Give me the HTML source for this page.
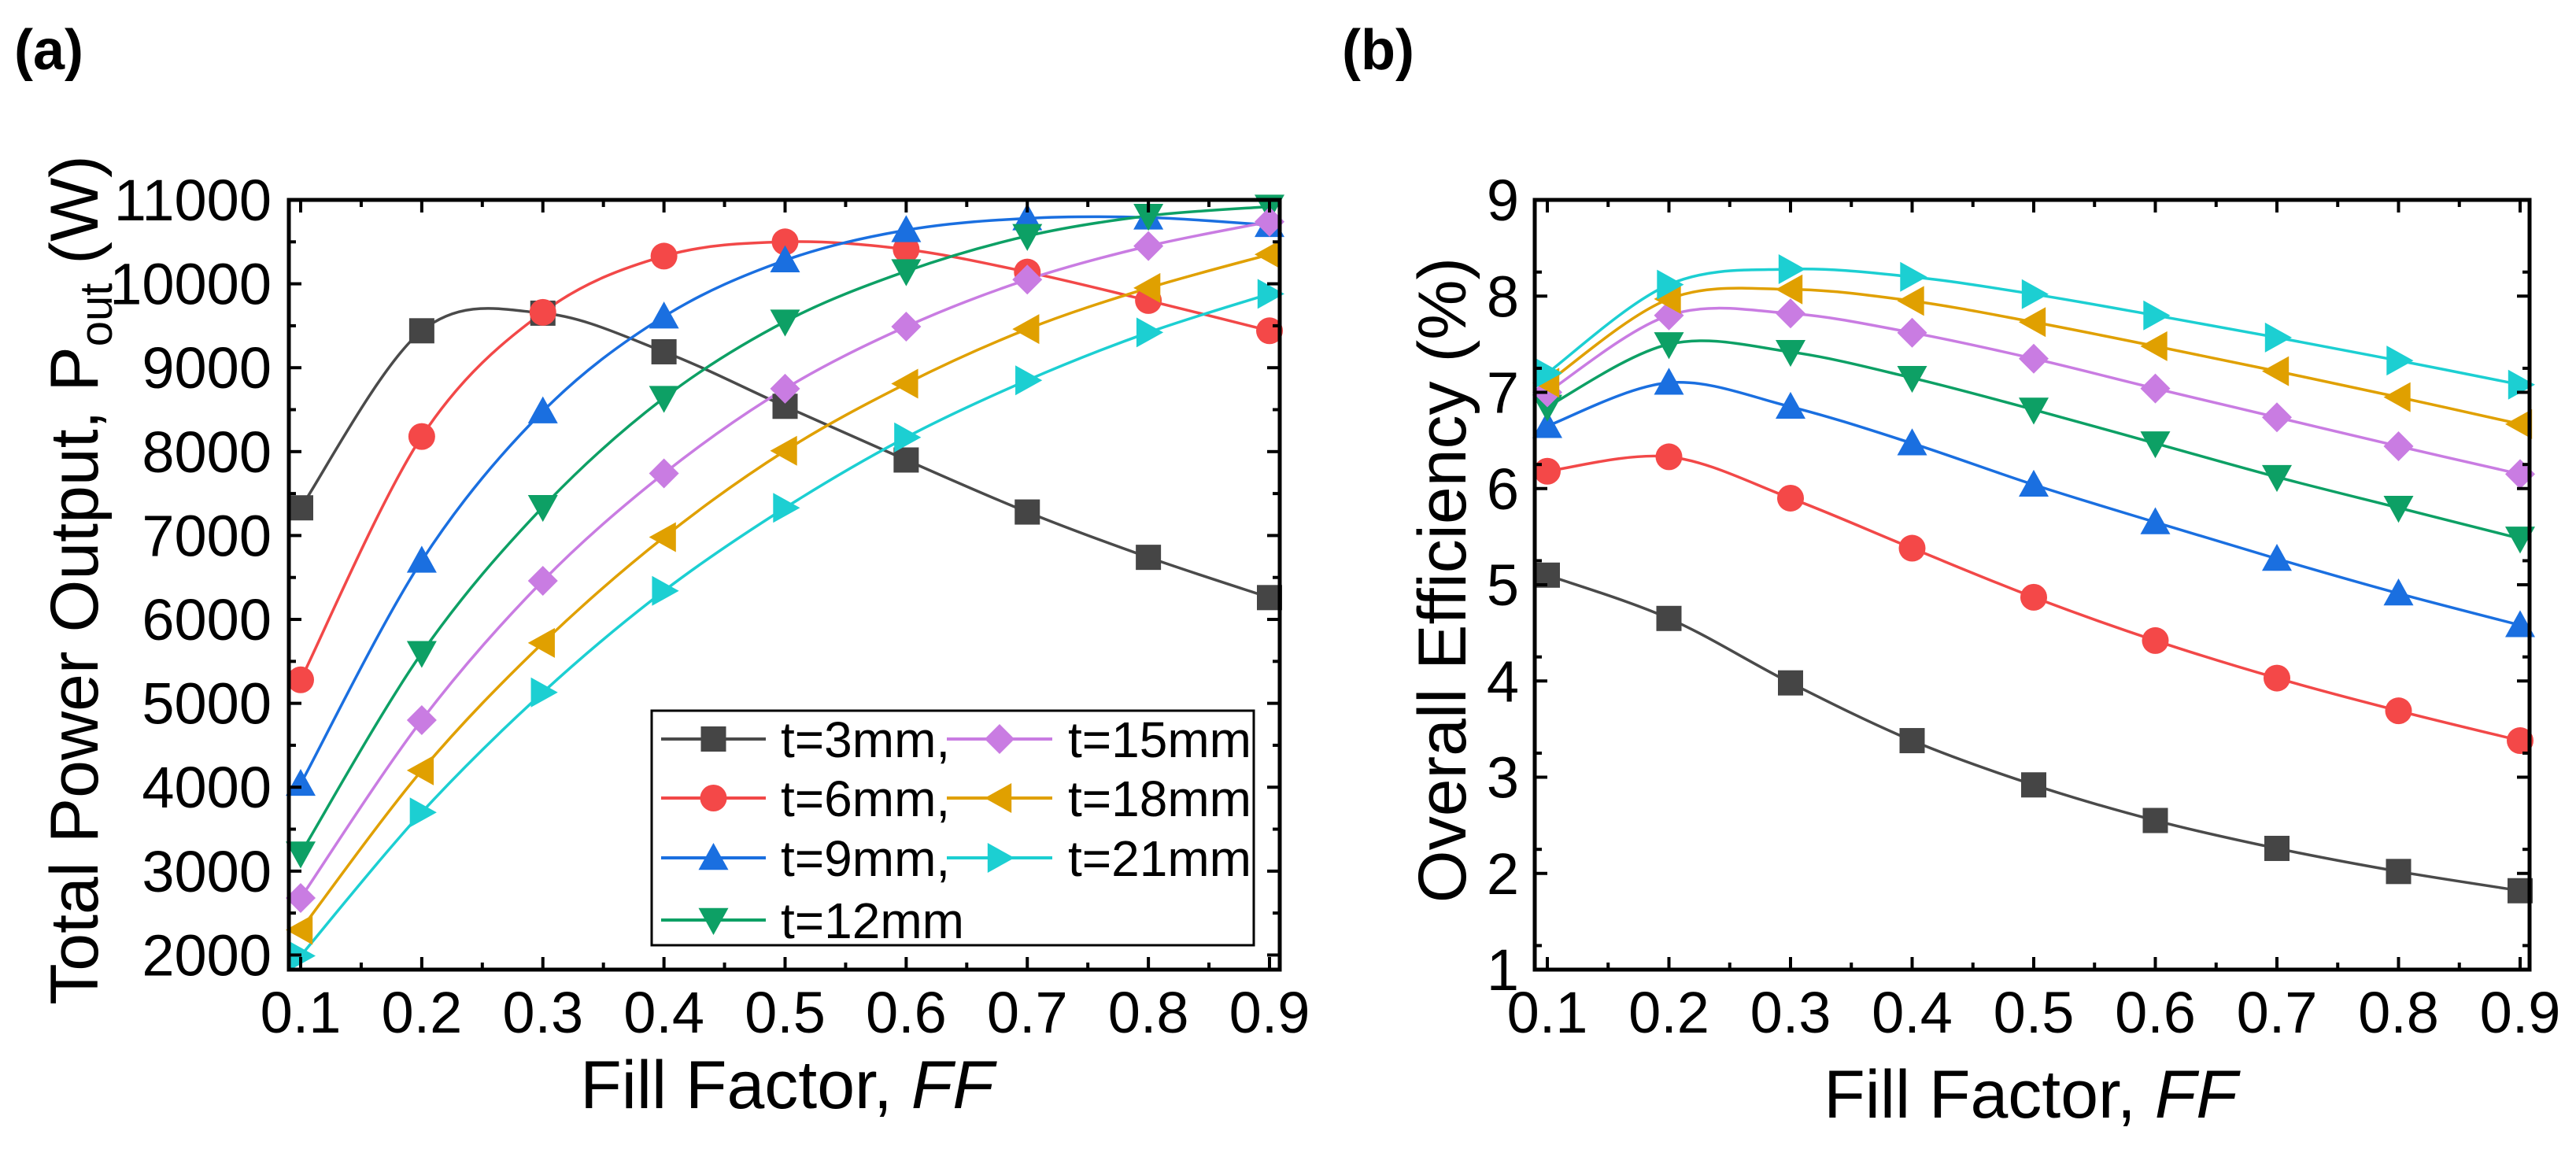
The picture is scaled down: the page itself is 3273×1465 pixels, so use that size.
<!DOCTYPE html>
<html><head><meta charset="utf-8"><style>
html,body{margin:0;padding:0;background:#fff;}
svg{display:block;font-family:"Liberation Sans",Arial,sans-serif;}
</style></head><body>
<svg id="fig" width="3273" height="1465" viewBox="0 0 3273 1465" xmlns="http://www.w3.org/2000/svg">
<text x="18" y="88" font-size="72" font-weight="bold">(a)</text>
<text x="1705" y="88" font-size="72" font-weight="bold">(b)</text>
</svg>
<script>
const ffValues=[0.1,0.2,0.3,0.4,0.5,0.6,0.7,0.8,0.9];
const seriesNames=["t=3mm,","t=6mm,","t=9mm,","t=12mm","t=15mm","t=18mm","t=21mm"];
const powerT3=[7330,9440,9650,9190,8540,7900,7280,6740,6260];
const powerT6=[5280,8180,9660,10330,10500,10410,10140,9800,9440];
const powerT9=[4040,6700,8480,9610,10280,10640,10780,10790,10700];
const powerT12=[3210,5600,7340,8640,9550,10150,10570,10810,10920];
const powerT15=[2680,4800,6460,7740,8750,9490,10050,10450,10740];
const powerT18=[2300,4200,5720,6980,8010,8810,9460,9950,10350];
const powerT21=[1990,3700,5130,6340,7330,8170,8850,9420,9880];
const effT3=[5.1,4.65,3.98,3.38,2.92,2.55,2.26,2.02,1.82];
const effT6=[6.18,6.33,5.9,5.38,4.87,4.42,4.03,3.69,3.38];
const effT9=[6.65,7.1,6.85,6.47,6.04,5.65,5.27,4.91,4.58];
const effT12=[6.85,7.5,7.42,7.15,6.82,6.47,6.12,5.8,5.48];
const effT15=[7.0,7.8,7.82,7.62,7.35,7.04,6.74,6.44,6.15];
const effT18=[7.1,7.97,8.07,7.95,7.73,7.48,7.22,6.95,6.67];
const effT21=[7.2,8.12,8.28,8.2,8.02,7.8,7.57,7.33,7.08];
const xTickLabels=["0.1","0.2","0.3","0.4","0.5","0.6","0.7","0.8","0.9"];
const powerTickLabels=["2000","3000","4000","5000","6000","7000","8000","9000","10000","11000"];
const effTickLabels=["1","2","3","4","5","6","7","8","9"];

const colors=["#4a4a4a","#f24848","#1a6fe0","#0da065","#c97ce2","#e0a000","#1ccfd2"];
const mcolors=["#454545","#f44848","#1a6fe0","#0da065","#c97ce2","#e0a000","#1ccfd2"];
const markers=["square","circle","up","down","diamond","left","right"];
const NS="http://www.w3.org/2000/svg";
const svg=document.getElementById("fig");
function el(tag,attrs,parent){const e=document.createElementNS(NS,tag);for(const k in attrs)e.setAttribute(k,attrs[k]);(parent||svg).appendChild(e);return e;}

function marker(g,type,cx,cy,col){
  const s=16;let m;
  if(type==="square")m=el("rect",{x:cx-s,y:cy-s,width:2*s,height:2*s,fill:col},g);
  else if(type==="circle")m=el("circle",{cx:cx,cy:cy,r:s+1,fill:col},g);
  else{
    let p;const r=s+3;
    if(type==="up")p=[[cx,cy-r],[cx+r,cy+r*0.8],[cx-r,cy+r*0.8]];
    else if(type==="down")p=[[cx,cy+r],[cx+r,cy-r*0.8],[cx-r,cy-r*0.8]];
    else if(type==="left")p=[[cx-r,cy],[cx+r*0.8,cy-r],[cx+r*0.8,cy+r]];
    else if(type==="right")p=[[cx+r,cy],[cx-r*0.8,cy-r],[cx-r*0.8,cy+r]];
    else p=[[cx,cy-r],[cx+r,cy],[cx,cy+r],[cx-r,cy]];
    m=el("polygon",{points:p.map(q=>q.join(",")).join(" "),fill:col},g);
  }
  
  
  return m;
}
function smoothPath(pts){
  let d="M"+pts[0][0]+","+pts[0][1];
  for(let i=0;i<pts.length-1;i++){
    const p0=pts[Math.max(i-1,0)],p1=pts[i],p2=pts[i+1],p3=pts[Math.min(i+2,pts.length-1)];
    const c1=[p1[0]+(p2[0]-p0[0])/6,p1[1]+(p2[1]-p0[1])/6];
    const c2=[p2[0]-(p3[0]-p1[0])/6,p2[1]-(p3[1]-p1[1])/6];
    d+=" C"+c1.join(",")+" "+c2.join(",")+" "+p2.join(",");
  }
  return d;
}

function panel(cfg){
  const g=el("g",{});
  
  
  const {L,R,T,B,x0,x1,y0,y1}=cfg;
  const xs=v=>cfg.xa+(v-0.1)*(cfg.xb-cfg.xa)/0.8;
  const ys=v=>B-(v-y0)*(B-T)/(y1-y0);
  // data
  cfg.series.forEach((arr,si)=>{
    const pts=arr.map((v,i)=>[xs(ffValues[i]),ys(v)]);
    const p=el("path",{d:smoothPath(pts),fill:"none",stroke:colors[si],"stroke-width":3.5},g);
    
    
  });
  cfg.series.forEach((arr,si)=>{
    arr.forEach((v,i)=>marker(g,markers[si],xs(ffValues[i]),ys(v),mcolors[si]));
  });
  // clip-ish white cover outside? frame
  const fr=el("rect",{x:L,y:T,width:R-L,height:B-T,fill:"none",stroke:"#000","stroke-width":5},g);
  
  
  // x ticks
  for(let k=0;k<=16;k++){
    const v=0.1+k*0.05;const x=xs(v);const len=(k%2===0)?16:9;
    el("line",{x1:x,y1:B,x2:x,y2:B-len,stroke:"#000","stroke-width":4},g);
    el("line",{x1:x,y1:T,x2:x,y2:T+len,stroke:"#000","stroke-width":4},g);
  }
  xTickLabels.forEach((lab,i)=>{
    const t=el("text",{x:xs(ffValues[i]),y:1312,"font-size":74,"text-anchor":"middle"},g);
    t.textContent=lab;
    
    
  });
  // y ticks
  const yl=cfg.yLabels;
  yl.forEach((lab,i)=>{
    const v=+lab;const y=ys(v);
    el("line",{x1:L,y1:y,x2:L+16,y2:y,stroke:"#000","stroke-width":4},g);
    el("line",{x1:R,y1:y,x2:R-16,y2:y,stroke:"#000","stroke-width":4},g);
    const ym=ys(v+cfg.ystep/2);
    if(ym>T+2){el("line",{x1:L,y1:ym,x2:L+9,y2:ym,stroke:"#000","stroke-width":4},g);
    el("line",{x1:R,y1:ym,x2:R-9,y2:ym,stroke:"#000","stroke-width":4},g);}
    const t=el("text",{x:cfg.ylabX,y:y+26,"font-size":74,"text-anchor":"end"},g);
    t.textContent=lab;
    
    
  });
  return g;
}

panel({name:"power-chart",L:367,R:1626,T:254,B:1232,xa:382,xb:1613,y0:1826,y1:11000,ystep:1000,
  yLabels:powerTickLabels,ylabX:345,
  series:[powerT3,powerT6,powerT9,powerT12,powerT15,powerT18,powerT21]});
panel({name:"efficiency-chart",L:1950,R:3214,T:254,B:1232,xa:1966,xb:3202,y0:1,y1:9,ystep:0.5,
  yLabels:effTickLabels,ylabX:1930,
  series:[effT3,effT6,effT9,effT12,effT15,effT18,effT21]});

// axis titles
function txt(x,y,s,content,name,extra){const t=el("text",Object.assign({x:x,y:y,"font-size":s,"text-anchor":"middle"},extra||{}));t.innerHTML=content;return t;}
txt(1000,1408,86,'Fill Factor, <tspan font-style="italic">FF</tspan>','x-axis-title-a');
txt(2580,1420,86,'Fill Factor, <tspan font-style="italic">FF</tspan>','x-axis-title-b');
txt(0,0,86,'Total Power Output, P<tspan font-size="58" dy="18">out</tspan><tspan dy="-18"> (W)</tspan>','y-axis-title-a',{transform:"translate(124,737) rotate(-90)"});
txt(0,0,86,'Overall Efficiency (%)','y-axis-title-b',{transform:"translate(1862,737) rotate(-90)"});

// legend
const lg=el("g",{});


const lb=el("rect",{x:828,y:903,width:765,height:298,fill:"#fff",stroke:"#000","stroke-width":3},lg);


const rowsY=[939,1014,1090,1169];
const legPos=[[0,0],[0,1],[0,2],[0,3],[1,0],[1,1],[1,2]];
seriesNames.forEach((nm,i)=>{
  const [c,r]=legPos[i];const y=rowsY[r];
  const x1=c?1203:840,x2=c?1337:973,tx=c?1357:992;
  const e=el("g",{},lg);
  
  
  el("line",{x1:x1,y1:y,x2:x2,y2:y,stroke:colors[i],"stroke-width":4},e);
  marker(e,markers[i],(x1+x2)/2,y,mcolors[i]);
  const t=el("text",{x:tx,y:y+23,"font-size":64},e);
  t.textContent=nm;
});
</script>
</body></html>
